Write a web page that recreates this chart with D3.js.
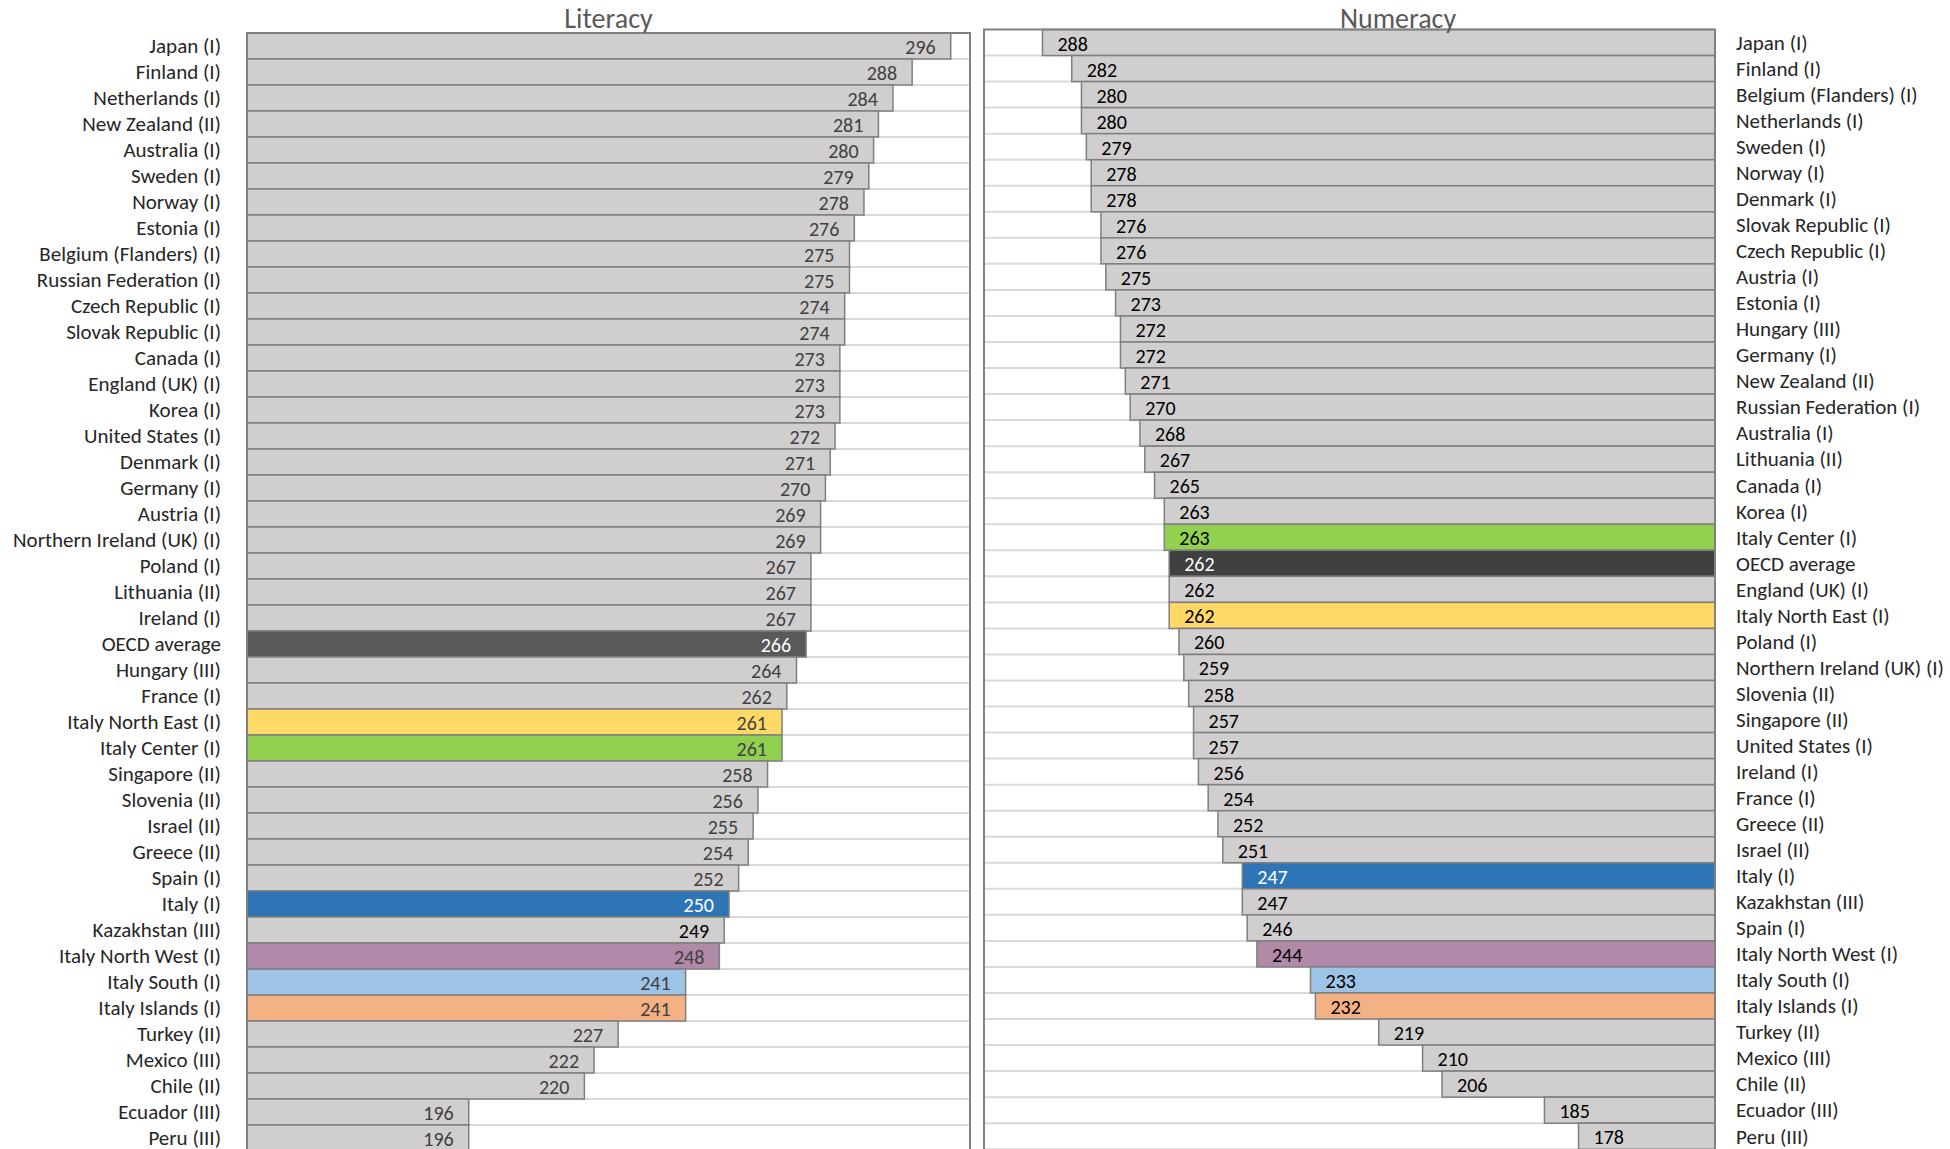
<!DOCTYPE html>
<html>
<head>
<meta charset="utf-8">
<script src="https://cdn.jsdelivr.net/npm/d3@7"></script>
<style>
  html, body { margin: 0; padding: 0; background: #fff; }
  svg { display: block; }
  text { font-family: Carlito, Lato, "Open Sans", sans-serif; }
</style>
</head>
<body>
<svg id="chart" width="1950" height="1149"></svg>
<script>
// ---------------- DATA ----------------
const literacyCountries = [
  "Japan (I)", "Finland (I)", "Netherlands (I)", "New Zealand (II)", "Australia (I)",
  "Sweden (I)", "Norway (I)", "Estonia (I)", "Belgium (Flanders) (I)", "Russian Federation (I)",
  "Czech Republic (I)", "Slovak Republic (I)", "Canada (I)", "England (UK) (I)", "Korea (I)",
  "United States  (I)", "Denmark (I)", "Germany (I)", "Austria (I)", "Northern Ireland (UK) (I)",
  "Poland (I)", "Lithuania (II)", "Ireland (I)", "OECD average", "Hungary (III)",
  "France (I)", "Italy North East (I)", "Italy Center (I)", "Singapore (II)", "Slovenia (II)",
  "Israel (II)", "Greece (II)", "Spain (I)", "Italy (I)", "Kazakhstan (III)",
  "Italy North West (I)", "Italy South (I)", "Italy Islands (I)", "Turkey (II)", "Mexico (III)",
  "Chile (II)", "Ecuador (III)", "Peru (III)"
];
const literacyValues = [
  296, 288, 284, 281, 280,
  279, 278, 276, 275, 275,
  274, 274, 273, 273, 273,
  272, 271, 270, 269, 269,
  267, 267, 267, 266, 264,
  262, 261, 261, 258, 256,
  255, 254, 252, 250, 249,
  248, 241, 241, 227, 222,
  220, 196, 196
];

const numeracyCountries = [
  "Japan (I)", "Finland (I)", "Belgium (Flanders) (I)", "Netherlands (I)", "Sweden (I)",
  "Norway (I)", "Denmark (I)", "Slovak Republic  (I)", "Czech Republic (I)", "Austria (I)",
  "Estonia (I)", "Hungary (III)", "Germany (I)", "New Zealand (II)", "Russian Federation (I)",
  "Australia (I)", "Lithuania (II)", "Canada (I)", "Korea (I)", "Italy Center (I)",
  "OECD average", "England (UK) (I)", "Italy North East (I)", "Poland (I)", "Northern Ireland (UK) (I)",
  "Slovenia (II)", "Singapore (II)", "United States  (I)", "Ireland (I)", "France (I)",
  "Greece (II)", "Israel (II)", "Italy (I)", "Kazakhstan (III)", "Spain (I)",
  "Italy North West (I)", "Italy South (I)", "Italy Islands (I)", "Turkey (II)", "Mexico (III)",
  "Chile (II)", "Ecuador (III)", "Peru (III)"
];
const numeracyValues = [
  288, 282, 280, 280, 279,
  278, 278, 276, 276, 275,
  273, 272, 272, 271, 270,
  268, 267, 265, 263, 263,
  262, 262, 262, 260, 259,
  258, 257, 257, 256, 254,
  252, 251, 247, 247, 246,
  244, 233, 232, 219, 210,
  206, 185, 178
];

const scoreDomain = [150, 300];
const panelTitles = ["Literacy", "Numeracy"];

// ---------------- STYLES ----------------
const highlight = {
  "Italy North East (I)": "#ffd966",
  "Italy Center (I)": "#92d050",
  "Italy (I)": "#2e75b6",
  "Italy North West (I)": "#b08aa8",
  "Italy South (I)": "#9dc3e6",
  "Italy Islands (I)": "#f4b183"
};
const baseFill = "#d0cece";
const whiteLabel = new Set(["OECD average", "Italy (I)"]);

const svg = d3.select("#chart");
const rowH = 26;

function fillFor(name, panel) {
  if (name === "OECD average") return panel === 0 ? "#595959" : "#404040";
  return highlight[name] || baseFill;
}

// ---------------- LITERACY (left) ----------------
(function () {
  const top = 33, left = 247, right = 970;
  const data = literacyCountries.map((c, i) => ({ c, v: literacyValues[i] }));
  const y = d3.scaleBand().domain(literacyCountries).range([top, top + rowH * data.length]).padding(0);
  const x = d3.scaleLinear().domain(scoreDomain).range([left, right]);
  const g = svg.append("g");

  g.selectAll("line.grid").data(data).enter().append("line")
    .attr("x1", left).attr("x2", right)
    .attr("y1", d => y(d.c) + y.bandwidth()).attr("y2", d => y(d.c) + y.bandwidth())
    .attr("stroke", "#d9d9d9").attr("stroke-width", 2);

  g.selectAll("rect.bar").data(data).enter().append("rect")
    .attr("x", x(scoreDomain[0]))
    .attr("y", d => y(d.c))
    .attr("width", d => x(d.v) - x(scoreDomain[0]))
    .attr("height", y.bandwidth())
    .attr("fill", d => fillFor(d.c, 0))
    .attr("stroke", "#7f7f7f").attr("stroke-width", 1.5);

  g.selectAll("text.val").data(data).enter().append("text")
    .attr("x", d => x(d.v) - 15)
    .attr("y", d => y(d.c) + y.bandwidth() / 2 + 7.5)
    .attr("text-anchor", "end")
    .attr("font-size", 20)
    .attr("fill", d => whiteLabel.has(d.c) ? "#ffffff" : (d.c === "Kazakhstan (III)" ? "#000000" : "#404040"))
    .text(d => d.v);

  g.selectAll("text.cat").data(data).enter().append("text")
    .attr("x", left - 26)
    .attr("y", d => y(d.c) + y.bandwidth() / 2 + 6.5)
    .attr("text-anchor", "end")
    .attr("font-size", 21)
    .attr("fill", "#262626")
    .text(d => d.c);

  g.append("path")
    .attr("d", `M${left},${top + rowH * data.length + 5}V${top}H${right}V${top + rowH * data.length + 5}`)
    .attr("fill", "none").attr("stroke", "#808080").attr("stroke-width", 2);

  g.append("text")
    .attr("x", (left + right) / 2).attr("y", 28)
    .attr("text-anchor", "middle").attr("font-size", 28).attr("fill", "#595959")
    .text(panelTitles[0]);
})();

// ---------------- NUMERACY (right) ----------------
(function () {
  const top = 29.5, left = 984, right = 1715;
  const rh = 26.04;
  const data = numeracyCountries.map((c, i) => ({ c, v: numeracyValues[i] }));
  const y = d3.scaleBand().domain(numeracyCountries).range([top, top + rh * data.length]).padding(0);
  const x = d3.scaleLinear().domain(scoreDomain).range([right, left]);
  const g = svg.append("g");

  g.selectAll("line.grid").data(data).enter().append("line")
    .attr("x1", left).attr("x2", right)
    .attr("y1", d => y(d.c) + y.bandwidth()).attr("y2", d => y(d.c) + y.bandwidth())
    .attr("stroke", "#d9d9d9").attr("stroke-width", 2);

  g.selectAll("rect.bar").data(data).enter().append("rect")
    .attr("x", d => x(d.v))
    .attr("y", d => y(d.c))
    .attr("width", d => x(scoreDomain[0]) - x(d.v))
    .attr("height", y.bandwidth())
    .attr("fill", d => fillFor(d.c, 1))
    .attr("stroke", "#7f7f7f").attr("stroke-width", 1.5);

  g.selectAll("text.val").data(data).enter().append("text")
    .attr("x", d => x(d.v) + 15)
    .attr("y", d => y(d.c) + y.bandwidth() / 2 + 8)
    .attr("text-anchor", "start")
    .attr("font-size", 20)
    .attr("fill", d => whiteLabel.has(d.c) ? "#ffffff" : "#000000")
    .text(d => d.v);

  g.selectAll("text.cat").data(data).enter().append("text")
    .attr("x", right + 21)
    .attr("y", d => y(d.c) + y.bandwidth() / 2 + 7.3)
    .attr("text-anchor", "start")
    .attr("font-size", 21)
    .attr("fill", "#262626")
    .text(d => d.c);

  g.append("path")
    .attr("d", `M${left},${top + rh * data.length + 5}V${top}H${right}V${top + rh * data.length + 5}`)
    .attr("fill", "none").attr("stroke", "#808080").attr("stroke-width", 2);

  g.append("text")
    .attr("x", 1398).attr("y", 28)
    .attr("text-anchor", "middle").attr("font-size", 28).attr("fill", "#595959")
    .text(panelTitles[1]);
})();
</script>
</body>
</html>
